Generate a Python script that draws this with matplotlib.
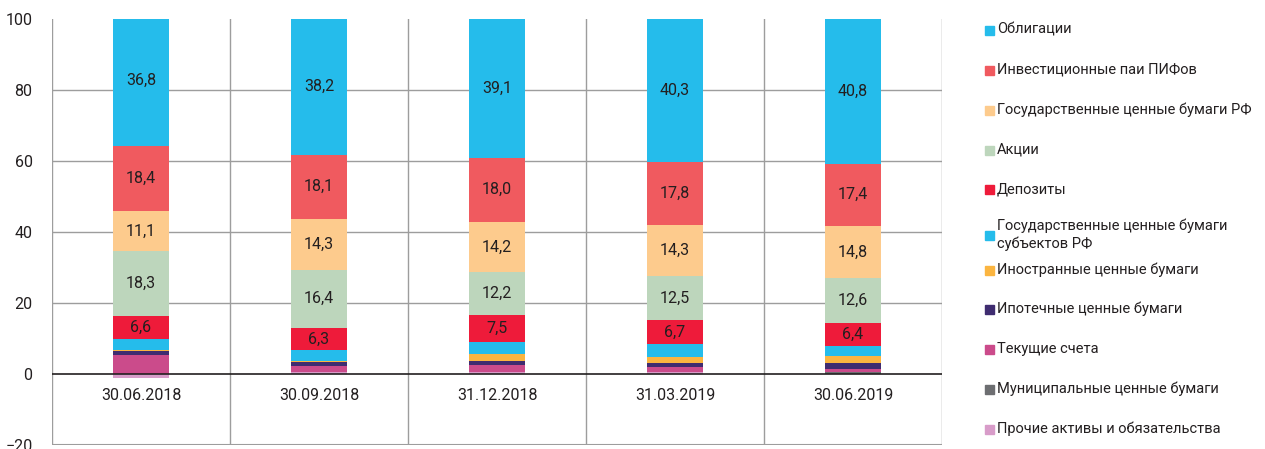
import numpy as np
import matplotlib
matplotlib.use("Agg")
import matplotlib.pyplot as plt
from matplotlib.patches import Rectangle

plt.rcParams['font.family'] = ['Roboto', 'DejaVu Sans']

dates = ['30.06.2018', '30.09.2018', '31.12.2018', '31.03.2019', '30.06.2019']

# series listed from the bottom of the stack upwards
series_names = [
    'Прочие активы и обязательства',
    'Муниципальные ценные бумаги',
    'Текущие счета',
    'Ипотечные ценные бумаги',
    'Иностранные ценные бумаги',
    'Государственные ценные бумаги\nсубъектов РФ',
    'Депозиты',
    'Акции',
    'Государственные ценные бумаги РФ',
    'Инвестиционные паи ПИФов',
    'Облигации',
]
prochie = [-1.0, 0.6, 0.5, 0.5, 0.1]
municip = [0.1, 0.1, 0.1, 0.0, 0.6]
tekushie = [5.2, 1.6, 2.0, 1.5, 0.8]
ipoteka = [1.2, 1.1, 1.2, 1.0, 1.6]
inostr = [0.2, 0.3, 1.9, 1.7, 1.9]
gos_subj = [3.1, 3.0, 3.3, 3.7, 3.0]
depozity = [6.6, 6.3, 7.5, 6.7, 6.4]
akcii = [18.3, 16.4, 12.2, 12.5, 12.6]
gos_rf = [11.1, 14.3, 14.2, 14.3, 14.8]
pif = [18.4, 18.1, 18.0, 17.8, 17.4]
obligacii = [36.8, 38.2, 39.1, 40.3, 40.8]

series_values = [prochie, municip, tekushie, ipoteka, inostr, gos_subj,
                 depozity, akcii, gos_rf, pif, obligacii]
colors = ['#D89CC9', '#6D6E71', '#CB4B8B', '#3F2C70', '#FBB540', '#25BCEB',
          '#EE1B3A', '#BDD6BC', '#FDCB8D', '#F05A5F', '#25BCEB']
labeled = {'Депозиты', 'Акции', 'Государственные ценные бумаги РФ',
           'Инвестиционные паи ПИФов', 'Облигации'}

fig = plt.figure(figsize=(12.65, 4.49), dpi=100)
ax = fig.add_axes([52 / 1265, 4 / 449, 890 / 1265, 426 / 449])

x = np.arange(len(dates))
pos_bottom = np.zeros(len(dates))
neg_bottom = np.zeros(len(dates))
for name, vals, col in zip(series_names, series_values, colors):
    vals = np.array(vals)
    bottom = np.where(vals >= 0, pos_bottom, neg_bottom)
    ax.bar(x, vals, 0.315, bottom=bottom, color=col, linewidth=0, zorder=3)
    if name in labeled:
        for xi, b, v in zip(x, bottom, vals):
            ax.text(xi, b + v / 2, f'{v:.1f}'.replace('.', ','), ha='center',
                    va='center', fontsize=11.5, color='#231F20', zorder=4)
    pos_bottom += np.where(vals >= 0, vals, 0)
    neg_bottom += np.where(vals < 0, vals, 0)

ax.set_xlim(-0.5, len(dates) - 0.5)
ax.set_ylim(-20, 100)
ax.set_yticks(range(-20, 101, 20))
ax.tick_params(axis='y', length=0, labelsize=11.5, pad=14, colors='#231F20')
ax.set_xticks([])

for yv in range(20, 100, 20):
    ax.axhline(yv, color='#9D9D9D', linewidth=1, zorder=1)
ax.axhline(0, color='#231F20', linewidth=1.2, zorder=5)
ax.axhline(-20, color='#9D9D9D', linewidth=1.5, zorder=1)
for xv in np.arange(-0.5, len(dates), 1):
    ax.axvline(xv, color='#9D9D9D', linewidth=1, zorder=1)
for s in ax.spines.values():
    s.set_visible(False)

for xi, d in zip(x, dates):
    ax.text(xi, -6, d, ha='center', va='center', fontsize=11.5, color='#231F20')

# legend, drawn top to bottom
legend_y = [30, 70, 110, 150, 189, 235, 270, 309, 349, 389, 429]
for name, col, yp in zip(series_names[::-1], colors[::-1], legend_y):
    fig.patches.append(Rectangle(((985) / 1265, (449 - yp - 4.5) / 449),
                                 9 / 1265, 9 / 449, color=col,
                                 transform=fig.transFigure, figure=fig))
    fig.text(997 / 1265, (449 - yp) / 449, name, ha='left', va='center',
             fontsize=10.5, color='#231F20', linespacing=1.3)

fig.savefig('out.png', dpi=100)
